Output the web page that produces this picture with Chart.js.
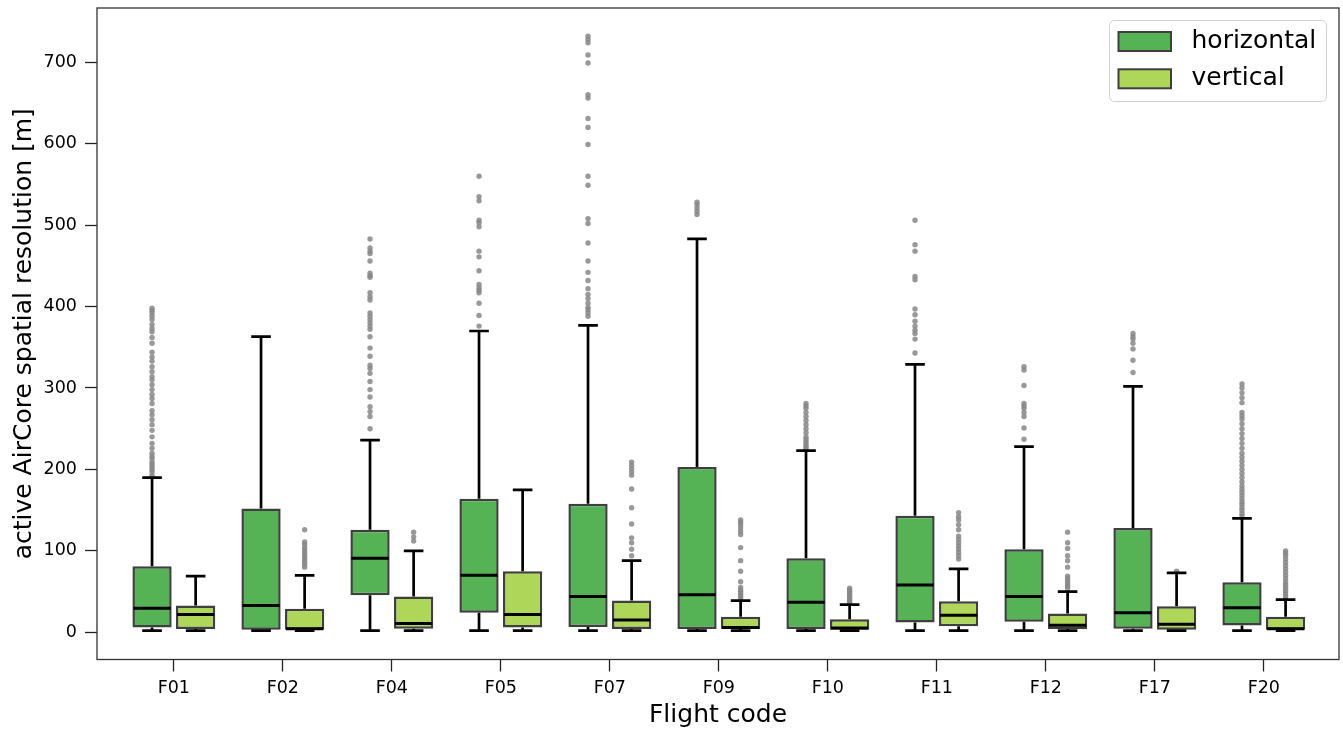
<!DOCTYPE html>
<html>
<head>
<meta charset="utf-8">
<script src="https://cdn.jsdelivr.net/npm/chart.js"></script>
<style>
  html, body { margin: 0; padding: 0; background: #fff; }
  #wrap { width: 1343px; height: 732px; position: relative; }
</style>
</head>
<body>
<div id="wrap"><canvas id="boxChart"></canvas></div>
<script>
// categories
const flightCodes = ["F01", "F02", "F04", "F05", "F07", "F09", "F10", "F11", "F12", "F17", "F20"];
const yTicks = [0, 100, 200, 300, 400, 500, 600, 700];

// horizontal resolution, box stats per flight
const horizWhiskerLow = [2, 2, 2, 2, 2, 2, 2, 2, 2, 2, 2];
const horizQ1 = [6, 3, 45.5, 24, 6.5, 4, 4, 12, 13, 4.5, 8.5];
const horizMedian = [29.5, 33, 91, 70, 44, 46, 37, 58, 44, 24, 30];
const horizQ3 = [81, 152, 126, 164, 158, 203, 91, 143, 102, 128, 61.5];
const horizWhiskerHigh = [190, 363, 236, 370, 377, 483, 223, 329, 228, 302, 140];
const horizOutliers = [
  [193, 197, 200, 203, 206, 209, 213, 216, 220, 226, 232, 240, 248, 255, 261, 267, 272, 281, 287, 292, 298, 304, 310, 314, 320, 326, 333, 338, 344, 355, 362, 369, 373, 378, 384, 388, 392, 395, 398],
  [],
  [250, 265, 271, 277, 289, 298, 308, 318, 324, 328, 339, 349, 363, 372, 376, 380, 384, 388, 392, 408, 412, 417, 436, 438, 441, 456, 465, 468, 472, 483],
  [376, 389, 404, 417, 420, 423, 427, 444, 461, 468, 498, 503, 506, 530, 535, 560],
  [388, 392, 396, 399, 404, 410, 415, 422, 432, 442, 456, 478, 502, 508, 549, 560, 599, 620, 631, 656, 660, 699, 709, 724, 728, 732],
  [513, 517, 521, 525, 528],
  [226, 228, 231, 234, 237, 240, 245, 250, 255, 260, 265, 270, 275, 278, 281],
  [343, 360, 367, 371, 376, 382, 390, 397, 433, 437, 468, 476, 506],
  [237, 251, 265, 270, 275, 278, 281, 303, 322, 326],
  [319, 334, 348, 355, 360, 363, 367],
  [143, 146, 150, 153, 157, 160, 164, 168, 172, 176, 180, 185, 190, 195, 200, 205, 210, 215, 220, 226, 232, 238, 244, 250, 256, 262, 266, 270, 282, 288, 294, 300, 305],
];

// vertical resolution, box stats per flight
const vertWhiskerLow = [2, 2, 2, 2, 2, 2, 2, 2, 2, 2, 2];
const vertQ1 = [4, 3, 4.5, 6, 4, 4, 3, 7.5, 4, 3, 3];
const vertMedian = [22, 4.5, 10.7, 22, 15, 6, 5.3, 21, 8.6, 10, 4.5];
const vertQ3 = [33, 29, 44, 75, 39, 19, 16, 38, 23, 32, 19];
const vertWhiskerHigh = [69, 70, 100, 175, 88, 39, 34, 78, 50, 73, 40];
const vertOutliers = [
  [],
  [80, 83, 86, 89, 92, 95, 98, 101, 104, 108, 111, 126],
  [112, 117, 123],
  [],
  [94, 102, 110, 116, 133, 153, 176, 193, 197, 201, 205, 209],
  [42, 44, 46, 48, 50, 52, 55, 62, 75, 88, 104, 120, 124, 128, 132, 135, 138],
  [36, 38, 40, 42, 44, 46, 48, 50, 52, 54],
  [90, 94, 98, 102, 106, 110, 114, 118, 126, 132, 138, 142, 147],
  [54, 57, 60, 63, 66, 69, 80, 88, 94, 103, 110, 123],
  [75],
  [41, 44, 47, 50, 53, 56, 59, 62, 66, 70, 74, 78, 82, 86, 90, 94, 97, 100],
];

const hueOffset = 0.2;
const FONT = "DejaVu Sans";
const horizColor = "#55b356";
const vertColor = "#aed75a";
const edgeColor = "#3f3f3f";

const boxStats = [
  { low: horizWhiskerLow, q1: horizQ1, med: horizMedian, q3: horizQ3, high: horizWhiskerHigh },
  { low: vertWhiskerLow, q1: vertQ1, med: vertMedian, q3: vertQ3, high: vertWhiskerHigh },
];

const outlierPoints = (lists, shift) =>
  lists.flatMap((vals, i) => vals.map((v) => ({ x: i + shift, y: v })));

// whiskers, caps and medians on top of the floating bars
const boxDetails = {
  id: "boxDetails",
  afterDatasetsDraw(chart) {
    const ctx = chart.ctx;
    const y = chart.scales.y;
    ctx.save();
    ctx.strokeStyle = "#000";
    ctx.lineCap = "butt";
    boxStats.forEach((s, d) => {
      chart.getDatasetMeta(d).data.forEach((bar, i) => {
        const w = bar.width;
        const yq1 = y.getPixelForValue(s.q1[i]);
        const yq3 = y.getPixelForValue(s.q3[i]);
        const ylo = y.getPixelForValue(s.low[i]);
        const yhi = y.getPixelForValue(s.high[i]);
        ctx.lineWidth = 2.7;
        ctx.beginPath();
        ctx.moveTo(bar.x, yq3);
        ctx.lineTo(bar.x, yhi);
        ctx.moveTo(bar.x, yq1);
        ctx.lineTo(bar.x, ylo);
        ctx.moveTo(bar.x - w / 4, yhi);
        ctx.lineTo(bar.x + w / 4, yhi);
        ctx.moveTo(bar.x - w / 4, ylo);
        ctx.lineTo(bar.x + w / 4, ylo);
        ctx.stroke();
        const ym = y.getPixelForValue(s.med[i]);
        ctx.lineWidth = 3;
        ctx.beginPath();
        ctx.moveTo(bar.x - w / 2 + 1, ym);
        ctx.lineTo(bar.x + w / 2 - 1, ym);
        ctx.stroke();
      });
    });
    ctx.restore();
  },
};

// axes frame and legend inside the plot
const frameAndLegend = {
  id: "frameAndLegend",
  afterDraw(chart) {
    const ctx = chart.ctx;
    const a = chart.chartArea;
    ctx.save();
    ctx.strokeStyle = "#333";
    ctx.lineWidth = 1.3;
    ctx.strokeRect(a.left, a.top, a.right - a.left, a.bottom - a.top);

    const bx = a.right - 229.5, by = a.top + 12.5, bw = 217, bh = 81;
    ctx.beginPath();
    ctx.roundRect(bx, by, bw, bh, 5);
    ctx.fillStyle = "rgba(255,255,255,0.85)";
    ctx.fill();
    ctx.strokeStyle = "#d0d0d0";
    ctx.lineWidth = 1;
    ctx.stroke();

    ctx.font = "25px '" + FONT + "'";
    ctx.textBaseline = "middle";
    [0, 1].forEach((d) => {
      const ds = chart.data.datasets[d];
      const ry = by + 21 + d * 37.3;
      ctx.fillStyle = ds.backgroundColor;
      ctx.fillRect(bx + 9, ry - 9.5, 52.5, 19);
      ctx.strokeStyle = edgeColor;
      ctx.lineWidth = 2;
      ctx.strokeRect(bx + 9, ry - 9.5, 52.5, 19);
      ctx.fillStyle = "#000";
      ctx.fillText(ds.label, bx + 82, ry);
    });
    ctx.restore();
  },
};

Chart.defaults.font.family = FONT;

new Chart(document.getElementById("boxChart").getContext("2d"), {
  type: "bar",
  data: {
    datasets: [
      {
        label: "horizontal",
        data: flightCodes.map((c, i) => ({ x: i, y: [horizQ1[i], horizQ3[i]] })),
        backgroundColor: horizColor,
        borderColor: edgeColor,
        borderWidth: 2.5,
        borderSkipped: false,
        categoryPercentage: 0.8,
        barPercentage: 0.9,
      },
      {
        label: "vertical",
        data: flightCodes.map((c, i) => ({ x: i, y: [vertQ1[i], vertQ3[i]] })),
        backgroundColor: vertColor,
        borderColor: edgeColor,
        borderWidth: 2.5,
        borderSkipped: false,
        categoryPercentage: 0.8,
        barPercentage: 0.9,
      },
      {
        type: "scatter",
        label: "horizontal outliers",
        data: outlierPoints(horizOutliers, -hueOffset),
        backgroundColor: "rgba(135,135,135,0.85)",
        borderWidth: 0,
        pointRadius: 2.7,
      },
      {
        type: "scatter",
        label: "vertical outliers",
        data: outlierPoints(vertOutliers, hueOffset),
        backgroundColor: "rgba(135,135,135,0.85)",
        borderWidth: 0,
        pointRadius: 2.7,
      },
    ],
  },
  options: {
    responsive: true,
    maintainAspectRatio: false,
    animation: false,
    layout: { padding: { top: 8, right: 4, left: 0, bottom: 0 } },
    plugins: {
      legend: { display: false },
      tooltip: { enabled: false },
    },
    scales: {
      x: {
        type: "linear",
        min: -0.705,
        max: 10.69,
        offset: false,
        afterBuildTicks: (scale) => {
          scale.ticks = flightCodes.map((c, i) => ({ value: i }));
        },
        afterFit: (scale) => {
          scale.height = 72.5;
          scale.paddingLeft = 0;
          scale.paddingRight = 0;
        },
        ticks: {
          callback: (value) => flightCodes[value],
          autoSkip: false,
          maxRotation: 0,
          padding: 6,
          color: "#000",
          font: { size: 17.5, family: FONT },
        },
        grid: {
          drawOnChartArea: false,
          offset: false,
          tickLength: 12,
          tickColor: "#222",
          tickWidth: 1.3,
        },
        border: { display: false },
        title: {
          display: true,
          text: "Flight code",
          color: "#000",
          font: { size: 25, family: FONT },
          padding: { top: 0, bottom: 2 },
        },
      },
      y: {
        min: -33.4,
        max: 766.6,
        afterBuildTicks: (scale) => {
          scale.ticks = yTicks.map((v) => ({ value: v }));
        },
        afterFit: (scale) => {
          scale.width = 97;
          scale.paddingTop = 0;
          scale.paddingBottom = 0;
        },
        ticks: {
          padding: 8,
          color: "#000",
          font: { size: 17.5, family: FONT },
        },
        grid: {
          drawOnChartArea: false,
          tickLength: 12,
          tickColor: "#222",
          tickWidth: 1.3,
        },
        border: { display: false },
        title: {
          display: true,
          text: "active AirCore spatial resolution [m]",
          color: "#000",
          font: { size: 25, family: FONT },
          padding: { top: 9, bottom: 0 },
        },
      },
    },
  },
  plugins: [boxDetails, frameAndLegend],
});
</script>
</body>
</html>
